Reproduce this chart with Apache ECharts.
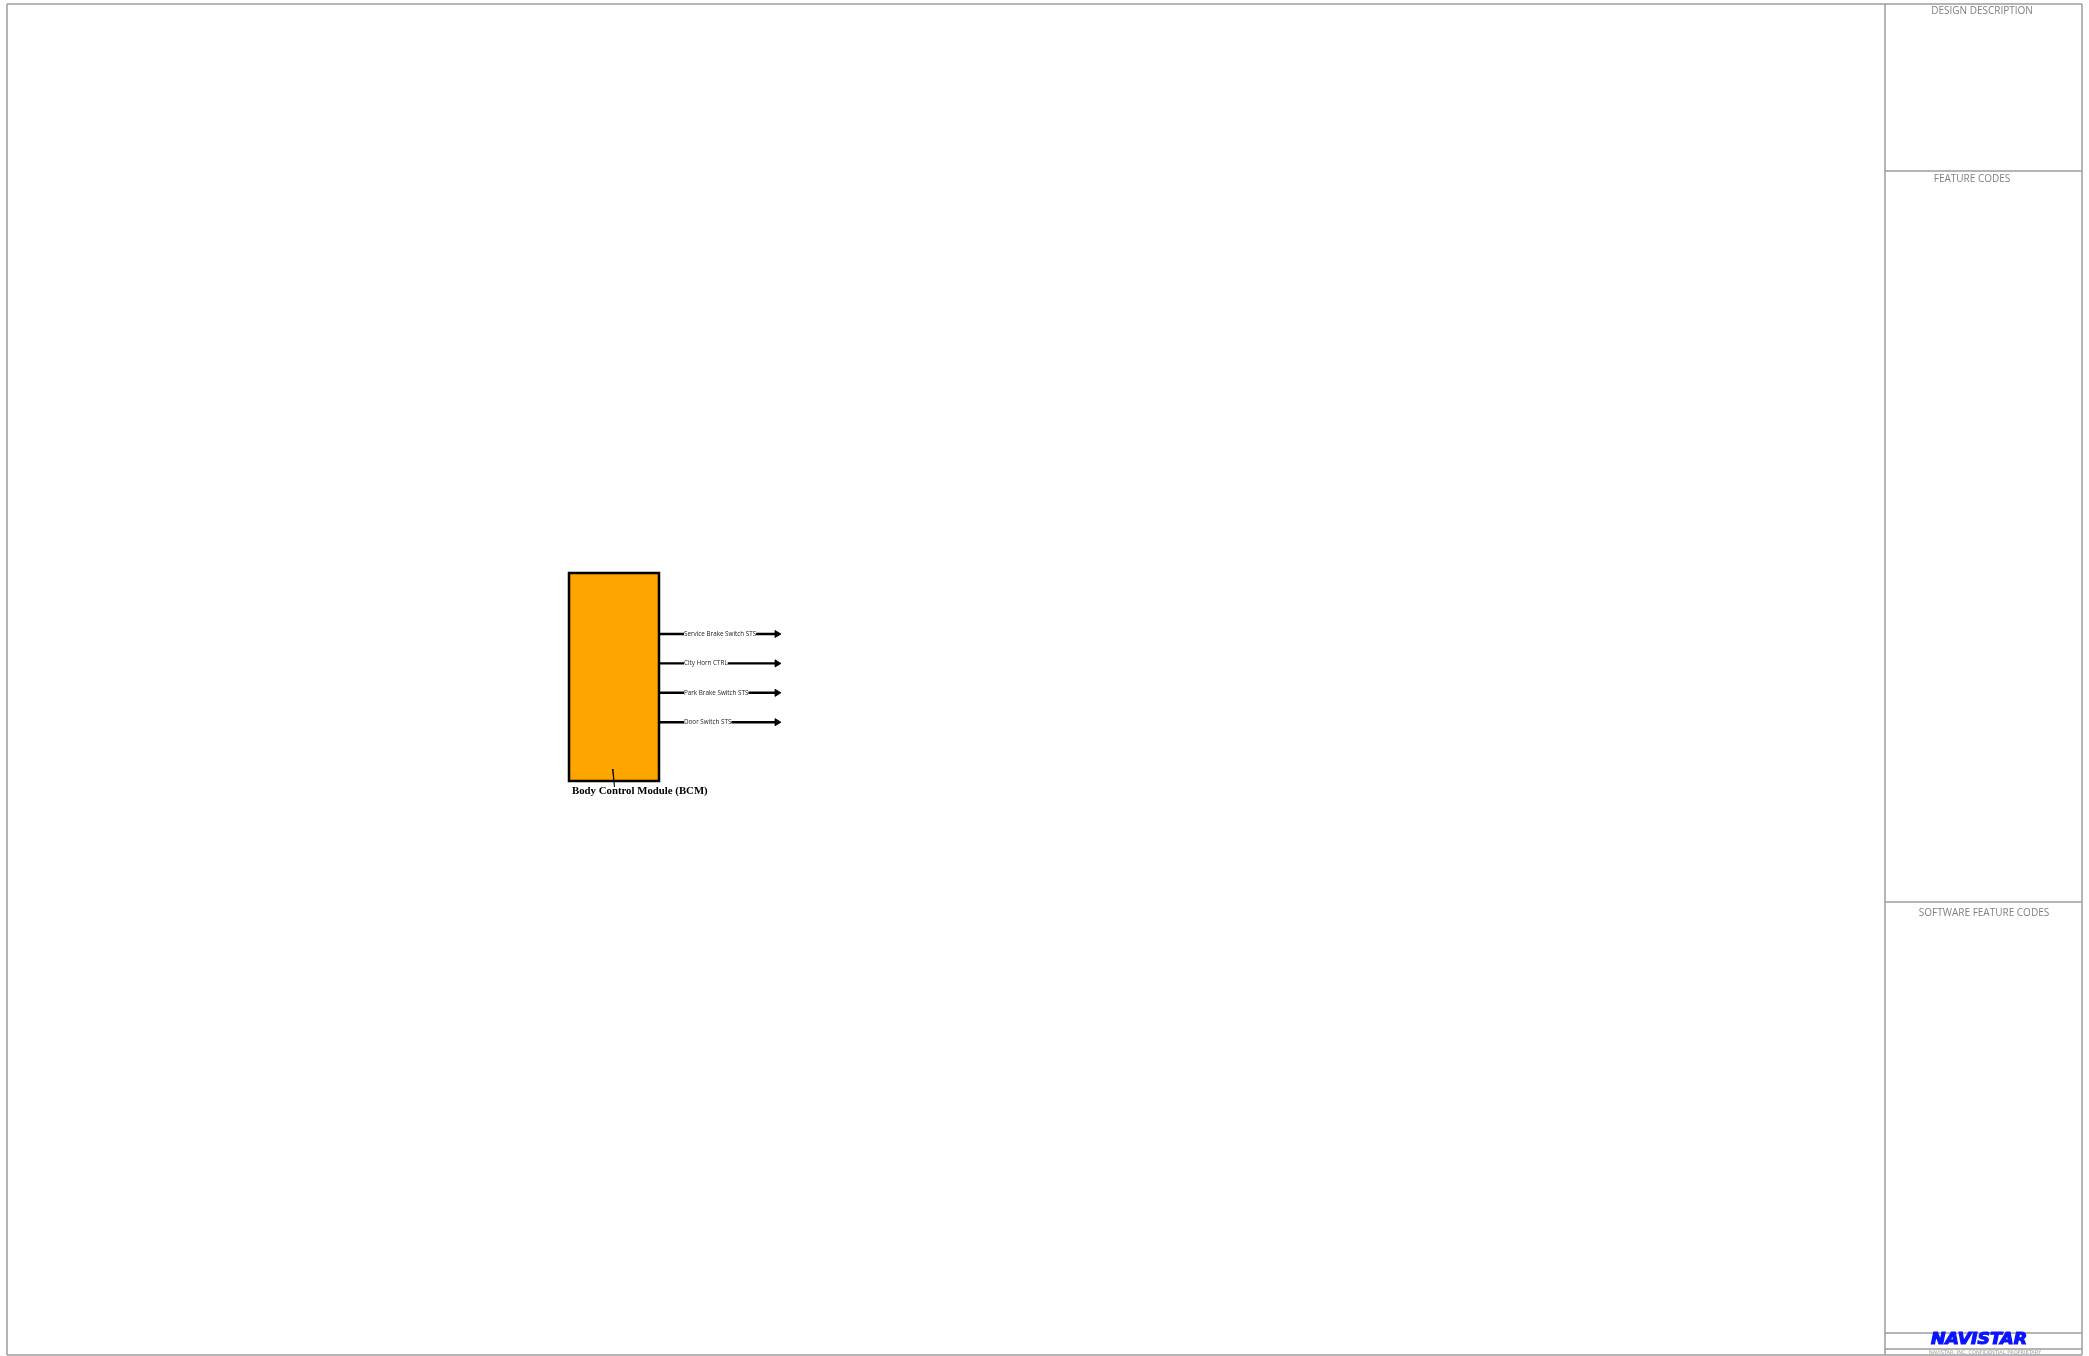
<!DOCTYPE html>
<html>
<head>
<meta charset="utf-8">
<script src="https://cdn.jsdelivr.net/npm/echarts@6/dist/echarts.min.js"></script>
<style>html,body{margin:0;padding:0;background:#fff;}#c{width:2089px;height:1356px;}</style>
</head>
<body>
<div id="c"></div>
<script>
// ---- data ----
const moduleName = 'Body Control Module (BCM)';
const signals = ['Service Brake Switch STS', 'City Horn CTRL', 'Park Brake Switch STS', 'Door Switch STS'];
const panelTitles = ['DESIGN DESCRIPTION', 'FEATURE CODES', 'SOFTWARE FEATURE CODES'];
const logoText = 'NAVISTAR';
const footerText = 'NAVISTAR, INC. CONFIDENTIAL PROPRIETARY';

// ---- layout (page coordinates) ----
const W = 2089, H = 1356;
const box = { x0: 569, y0: 573, x1: 659, y1: 781 };
const sigY0 = 634, sigStep = 29.4, sigEnd = 781, sigLabelX = 684;
const frame = { x0: 7, y0: 4, x1: 2082, y1: 1355 };
const panelX = 1885;
const panelDividers = [171, 902, 1333, 1349];
const panelTitleY = [11, 179, 913];
const panelTitleX = [1982, 1972, 1984];
const frameColor = '#9c9c9c';

const chart = echarts.init(document.getElementById('c'), null, { renderer: 'canvas' });

function frameRender(params, api) {
  const p = (x, y) => api.coord([x, y]);
  const lines = [];
  const seg = (a, b) => lines.push({ type: 'line', shape: { x1: a[0], y1: a[1], x2: b[0], y2: b[1] }, style: { stroke: frameColor, lineWidth: 1.5 } });
  seg(p(frame.x0, frame.y0), p(frame.x1, frame.y0));
  seg(p(frame.x0, frame.y1), p(frame.x1, frame.y1));
  seg(p(frame.x0, frame.y0), p(frame.x0, frame.y1));
  seg(p(frame.x1, frame.y0), p(frame.x1, frame.y1));
  seg(p(panelX, frame.y0), p(panelX, frame.y1));
  panelDividers.forEach(y => seg(p(panelX, y), p(frame.x1, y)));
  panelTitles.forEach((t, i) => {
    const q = p(panelTitleX[i], panelTitleY[i]);
    lines.push({ type: 'text', x: q[0], y: q[1], style: { text: t, fill: '#808080', font: '10px "Open Sans", sans-serif', textAlign: 'center', textVerticalAlign: 'middle' } });
  });
  const lg = p(1979, 1340);
  lines.push({ type: 'text', x: lg[0], y: lg[1], scaleX: 1.08, scaleY: 0.95, style: { text: logoText, fill: '#0a14ff', stroke: '#0a14ff', lineWidth: 1.2, font: 'italic 900 16px "DejaVu Sans", sans-serif', textAlign: 'center', textVerticalAlign: 'middle' } });
  const ft = p(1985, 1353);
  lines.push({ type: 'text', x: ft[0], y: ft[1], style: { text: footerText, fill: '#9a9a9a', font: '5px "DejaVu Sans", sans-serif', textAlign: 'center', textVerticalAlign: 'middle' } });
  return { type: 'group', children: lines };
}

function boxRender(params, api) {
  const a = api.coord([box.x0, box.y0]);
  const b = api.coord([box.x1, box.y1]);
  const t = api.coord([box.x0 + 3, box.y1 + 10]);
  const m1 = api.coord([612, 769]);
  const m2 = api.coord([615, 787]);
  return {
    type: 'group', children: [
      { type: 'rect', shape: { x: a[0], y: a[1], width: b[0] - a[0], height: b[1] - a[1] }, style: { fill: '#ffa500', stroke: '#000', lineWidth: 2.5 } },
      { type: 'polygon', shape: { points: [[m1[0], m1[1]], [m1[0] + 1.5, m1[1]], [m2[0], m2[1]], [m2[0] - 1, m2[1]]] }, style: { fill: '#000' } },
      { type: 'text', x: t[0], y: t[1], style: { text: moduleName, fill: '#000', font: 'bold 10.8px "Liberation Serif", "Times New Roman", serif', textAlign: 'left', textVerticalAlign: 'middle' } }
    ]
  };
}

function signalRender(params, api) {
  const i = api.value(0);
  const y = sigY0 + i * sigStep;
  const s = api.coord([box.x1, y]);
  const e = api.coord([sigEnd, y]);
  const l = api.coord([sigLabelX, y]);
  const ah = 6, aw = 3.6;
  return {
    type: 'group', children: [
      { type: 'line', shape: { x1: s[0], y1: s[1], x2: e[0] - ah + 1, y2: e[1] }, style: { stroke: '#000', lineWidth: 2.4 } },
      { type: 'polygon', shape: { points: [[e[0], e[1]], [e[0] - ah, e[1] - aw], [e[0] - ah, e[1] + aw]] }, style: { fill: '#000', stroke: '#000', lineWidth: 0.8, lineJoin: 'round' } },
      { type: 'text', x: l[0], y: l[1], style: { text: signals[i], fill: '#222', font: '6.3px "Open Sans", sans-serif', textAlign: 'left', textVerticalAlign: 'middle', backgroundColor: '#fff', padding: [0, 0] } }
    ]
  };
}

chart.setOption({
  animation: false,
  backgroundColor: '#fff',
  grid: { left: 0, right: 0, top: 0, bottom: 0 },
  xAxis: { type: 'value', min: 0, max: W, show: false },
  yAxis: { type: 'value', min: 0, max: H, inverse: true, show: false },
  series: [
    { type: 'custom', renderItem: frameRender, data: [[0]], silent: true, clip: false },
    { type: 'custom', renderItem: boxRender, data: [[0]], silent: true, clip: false },
    { type: 'custom', renderItem: signalRender, data: signals.map((s, i) => [i, s]), silent: true, clip: false }
  ]
});
</script>
</body>
</html>
